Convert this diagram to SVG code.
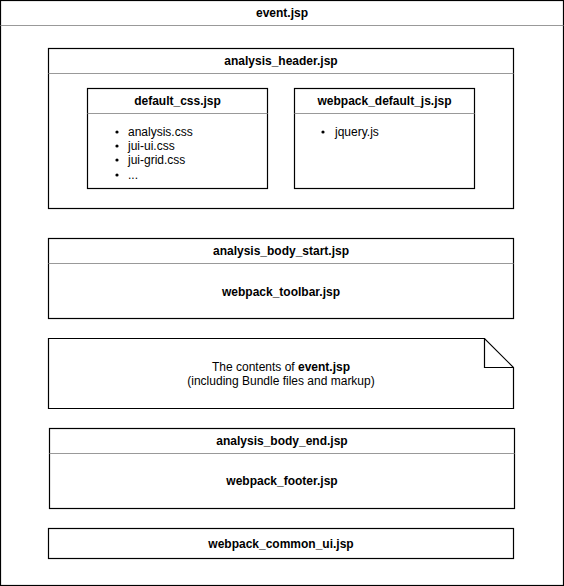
<svg xmlns="http://www.w3.org/2000/svg" width="564" height="586" viewBox="0 0 564 586">
<style>
.box{fill:#fff;stroke:#000;stroke-width:1.2}
.div{stroke:#999;stroke-width:1}
text{font-family:"Liberation Sans",Arial,Helvetica,sans-serif;font-size:12px;fill:#000}
.t{font-weight:bold;text-anchor:middle}
.c{text-anchor:middle}
</style>
<rect width="564" height="586" fill="#fff"/>
<g id="event">
<rect class="box" x="0.5" y="0.5" width="563" height="585"/>
<line class="div" x1="0.5" y1="25.5" x2="563.5" y2="25.5"/>
<text class="t" x="282" y="17">event.jsp</text>
</g>
<g id="analysis_header">
<rect class="box" x="48.5" y="48.5" width="465" height="160"/>
<line class="div" x1="48.5" y1="73.5" x2="513.5" y2="73.5"/>
<text class="t" x="281" y="65">analysis_header.jsp</text>
</g>
<g id="default_css">
<rect class="box" x="87.5" y="88.5" width="180" height="100"/>
<line class="div" x1="87.5" y1="113.5" x2="267.5" y2="113.5"/>
<text class="t" x="177.5" y="105">default_css.jsp</text>
<circle cx="117" cy="132" r="1.6"/><text x="128" y="136">analysis.css</text>
<circle cx="117" cy="146" r="1.6"/><text x="128" y="150">jui-ui.css</text>
<circle cx="117" cy="160" r="1.6"/><text x="128" y="164">jui-grid.css</text>
<circle cx="117" cy="175" r="1.6"/><text x="128" y="179">...</text>
</g>
<g id="webpack_default_js">
<rect class="box" x="294.5" y="88.5" width="180" height="100"/>
<line class="div" x1="294.5" y1="113.5" x2="474.5" y2="113.5"/>
<text class="t" x="384.5" y="105">webpack_default_js.jsp</text>
<circle cx="323" cy="132" r="1.6"/><text x="335" y="136">jquery.js</text>
</g>
<g id="analysis_body_start">
<rect class="box" x="48.5" y="238.5" width="465" height="80"/>
<line class="div" x1="48.5" y1="263.5" x2="513.5" y2="263.5"/>
<text class="t" x="281" y="255">analysis_body_start.jsp</text>
<text class="t" x="281" y="296">webpack_toolbar.jsp</text>
</g>
<g id="note">
<path class="box" d="M48.5 338.5 H484.5 L513.5 367.5 V408.5 H48.5 Z"/>
<path d="M484.5 338.5 V367.5 H513.5" fill="none" stroke="#000" stroke-width="1.2"/>
<text class="c" x="281" y="371">The contents of <tspan font-weight="bold">event.jsp</tspan></text>
<text class="c" x="281" y="385">(including Bundle files and markup)</text>
</g>
<g id="analysis_body_end">
<rect class="box" x="49.5" y="428.5" width="465" height="80"/>
<line class="div" x1="49.5" y1="453.5" x2="514.5" y2="453.5"/>
<text class="t" x="282" y="445">analysis_body_end.jsp</text>
<text class="t" x="282" y="485">webpack_footer.jsp</text>
</g>
<g id="webpack_common_ui">
<rect class="box" x="48.5" y="528.5" width="465" height="30"/>
<text class="t" x="281" y="548">webpack_common_ui.jsp</text>
</g>
<g id="connectors"/>
</svg>
